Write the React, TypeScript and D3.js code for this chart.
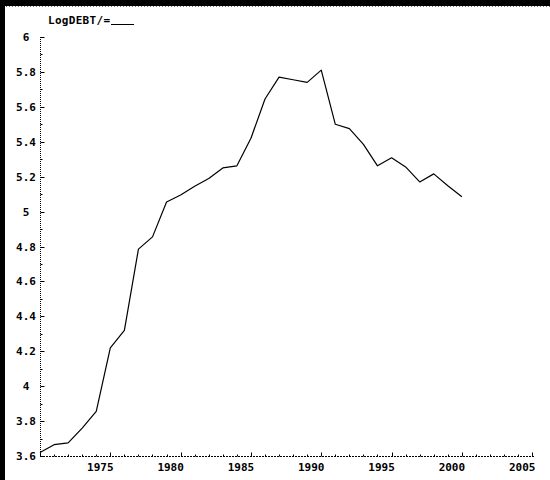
import React from "react";
import * as d3 from "d3";

// Annual log of debt, 1970–2000
const years: number[] = [
  1970, 1971, 1972, 1973, 1974, 1975, 1976, 1977, 1978, 1979,
  1980, 1981, 1982, 1983, 1984, 1985, 1986, 1987, 1988, 1989,
  1990, 1991, 1992, 1993, 1994, 1995, 1996, 1997, 1998, 1999, 2000,
];
const logDebt: number[] = [
  3.62, 3.665, 3.675, 3.76, 3.855, 4.22, 4.32, 4.785, 4.855, 5.055,
  5.095, 5.145, 5.19, 5.25, 5.262, 5.42, 5.645, 5.77, 5.755, 5.74,
  5.81, 5.5, 5.475, 5.385, 5.262, 5.308, 5.256, 5.17, 5.216, 5.148, 5.085,
];
const yTickLabels: number[] = [3.6, 3.8, 4, 4.2, 4.4, 4.6, 4.8, 5, 5.2, 5.4, 5.6, 5.8, 6];
const xTickLabels: number[] = [1975, 1980, 1985, 1990, 1995, 2000, 2005];
const title = "LogDEBT/=";

const W = 550;
const H = 480;
const FONT = "'DejaVu Sans Mono', 'Liberation Mono', monospace";

export default function App() {
  const x = d3.scaleLinear().domain([1970, 2005.2]).range([40, 535]);
  const y = d3.scaleLinear().domain([3.6, 6]).range([456, 37]);

  const line = d3
    .line<number>()
    .x((_, i) => x(years[i]))
    .y((d) => y(d));

  const minorY = d3.range(36, 61).map((v) => v / 10);
  const minorX = d3.range(1970, 2006);

  return (
    <svg
      width={W}
      height={H}
      style={{ position: "absolute", left: 0, top: 0, display: "block", background: "#fff" }}
    >
      <rect x={0} y={0} width={W} height={H} fill="#fff" />
      {/* frame band at top and left */}
      <rect x={0} y={0} width={W} height={6} fill="#000" />
      <line x1={0} x2={W} y1={6.5} y2={6.5} stroke="#777" strokeDasharray="1 2" />
      <rect x={0} y={0} width={5} height={H} fill="#000" />

      {/* title */}
      <text x={48} y={24} fontFamily={FONT} fontWeight="bold" fontSize={11} letterSpacing={0.3} fill="#000">
        {title}
      </text>
      <line x1={111} x2={134} y1={24.5} y2={24.5} stroke="#000" strokeWidth={1} />

      {/* y axis */}
      <line x1={40.5} x2={40.5} y1={y(6)} y2={y(3.6)} stroke="#000" strokeDasharray="1 1" />
      {minorY.map((v) => {
        const major = Math.abs(v * 5 - Math.round(v * 5)) < 1e-6;
        return (
          <line
            key={"ym" + v}
            x1={40.5}
            x2={40.5 + (major ? 4 : 2)}
            y1={Math.round(y(v)) + 0.5}
            y2={Math.round(y(v)) + 0.5}
            stroke="#000"
            strokeWidth={1}
          />
        );
      })}
      {yTickLabels.map((v) => (
        <text
          key={"yl" + v}
          x={26}
          y={y(v) + 4}
          textAnchor="middle"
          fontFamily={FONT}
          fontWeight="bold"
          fontSize={11}
          fill="#000"
        >
          {String(v)}
        </text>
      ))}

      {/* x axis */}
      <line x1={40} x2={535} y1={456.5} y2={456.5} stroke="#000" strokeDasharray="2 1" />
      {minorX.map((v) => {
        const major = v % 5 === 0;
        return (
          <line
            key={"xm" + v}
            x1={Math.round(x(v)) + 0.5}
            x2={Math.round(x(v)) + 0.5}
            y1={456.5}
            y2={456.5 - (major ? 4 : 2)}
            stroke="#000"
            strokeWidth={1}
          />
        );
      })}
      {xTickLabels.map((v) => (
        <text
          key={"xl" + v}
          x={x(v) - 10}
          y={471}
          textAnchor="middle"
          fontFamily={FONT}
          fontWeight="bold"
          fontSize={11}
          fill="#000"
        >
          {String(v)}
        </text>
      ))}

      {/* series */}
      <path d={line(logDebt) || ""} fill="none" stroke="#000" strokeWidth={1.2} strokeLinejoin="round" />
    </svg>
  );
}
